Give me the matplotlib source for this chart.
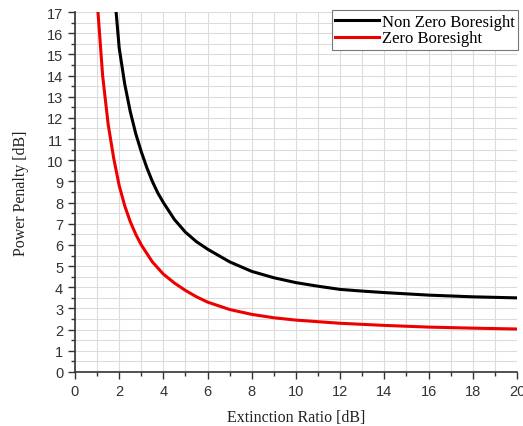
import matplotlib
matplotlib.use("Agg")
import matplotlib.pyplot as plt
from matplotlib.ticker import MultipleLocator

# Non Zero Boresight
x_nz = [1.86, 2.0, 2.25, 2.5, 2.75, 3.0, 3.25, 3.5, 3.75, 4.0, 4.5, 5.0, 5.5, 6.0, 7.0, 8.0, 9.0, 10.0, 11.0, 12.0, 13.0, 14.0, 16.0, 18.0, 20.0]
y_nz = [17.0, 15.3, 13.6, 12.3, 11.25, 10.4, 9.65, 9.0, 8.45, 8.0, 7.2, 6.6, 6.15, 5.8, 5.2, 4.75, 4.45, 4.22, 4.05, 3.9, 3.82, 3.75, 3.63, 3.55, 3.5]

# Zero Boresight
x_z = [1.04, 1.25, 1.5, 1.75, 2.0, 2.25, 2.5, 2.75, 3.0, 3.5, 4.0, 4.5, 5.0, 5.5, 6.0, 7.0, 8.0, 9.0, 10.0, 12.0, 14.0, 16.0, 18.0, 20.0]
y_z = [17.0, 14.0, 11.7, 10.1, 8.8, 7.85, 7.1, 6.5, 6.0, 5.2, 4.62, 4.2, 3.85, 3.55, 3.3, 2.95, 2.72, 2.56, 2.45, 2.3, 2.2, 2.12, 2.07, 2.03]

fig = plt.figure(figsize=(5.23, 4.27), dpi=100)
ax = fig.add_axes([0.1434, 0.1265, 0.8451, 0.843])

ax.plot(x_nz, y_nz, color="black", lw=2.2, label="Non Zero Boresight")
ax.plot(x_z, y_z, color="#ee0000", lw=2.2, label="Zero Boresight")

ax.set_xlim(0, 20)
ax.set_ylim(0, 17)
ax.xaxis.set_major_locator(MultipleLocator(2))
ax.xaxis.set_minor_locator(MultipleLocator(1))
ax.yaxis.set_major_locator(MultipleLocator(1))
ax.yaxis.set_minor_locator(MultipleLocator(0.5))
ax.grid(which="both", color="#dcdcdc", lw=0.8)
ax.set_axisbelow(True)

for s in ["top", "right"]:
    ax.spines[s].set_visible(False)
for s in ["left", "bottom"]:
    ax.spines[s].set_color("#333333")
    ax.spines[s].set_linewidth(1.2)

ax.tick_params(which="major", direction="out", length=5, width=1, colors="#333333", labelsize=10.5)
ax.tick_params(which="minor", direction="out", length=3, width=1, colors="#333333")
for lab in ax.get_xticklabels() + ax.get_yticklabels():
    lab.set_family("Liberation Sans")
    lab.set_color("#333333")

ax.set_xlabel("Extinction Ratio [dB]", family="Liberation Serif", fontsize=11.5, labelpad=8, color="#222222")
ax.set_ylabel("Power Penalty [dB]", family="Liberation Serif", fontsize=11.5, labelpad=13, color="#222222")

leg = ax.legend(loc="upper right", bbox_to_anchor=(1.003, 1.005), prop={"family": "Liberation Serif", "size": 12},
                fancybox=False, framealpha=1, edgecolor="#777777", handlelength=2.6,
                handletextpad=0.2, borderpad=0.2, labelspacing=0.05, borderaxespad=0.0)
leg.get_frame().set_linewidth(0.8)

plt.savefig("out.png", dpi=100)
